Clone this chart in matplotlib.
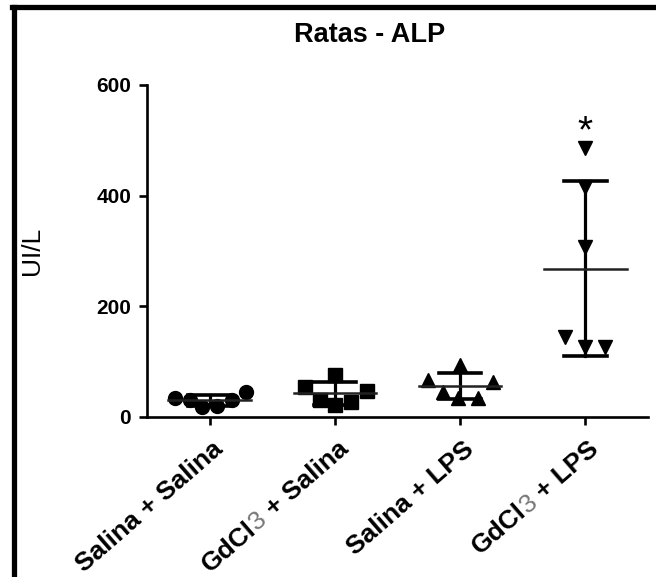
import numpy as np
import matplotlib
matplotlib.use("Agg")
import matplotlib.pyplot as plt
from matplotlib.lines import Line2D

plt.rcParams['font.family'] = ['Liberation Sans', 'DejaVu Sans']

# data (UI/L)
groups = ["Salina + Salina", "GdCl3 + Salina", "Salina + LPS", "GdCl3 + LPS"]
sal_sal = [34, 31, 18, 20, 31, 45]
gd_sal = [54, 76, 47, 31, 22, 27]
sal_lps = [67, 94, 63, 45, 34, 34]
gd_lps = [486, 416, 307, 145, 127, 127]
values = [sal_sal, gd_sal, sal_lps, gd_lps]

# horizontal spread of the points inside each column
spread = [[-0.28, -0.16, -0.06, 0.06, 0.18, 0.29],
          [-0.24, 0.0, 0.26, -0.12, 0.0, 0.13],
          [-0.26, 0.0, 0.26, -0.14, -0.02, 0.14],
          [0.0, 0.0, 0.0, -0.16, 0.0, 0.16]]
markers = ['o', 's', '^', 'v']
msize = [10, 10, 10.5, 10.5]

W, H = 656, 577
fig = plt.figure(figsize=(W / 100, H / 100), dpi=100)
ax = fig.add_axes([147 / W, 1 - 417 / H, (648 - 147) / W, (417 - 85) / H])

for i, vals in enumerate(values):
    x = i + np.array(spread[i])
    ax.plot(x, vals, linestyle='none', marker=markers[i], ms=msize[i],
            color='black', clip_on=False, zorder=3)
    m = np.mean(vals)
    sd = np.std(vals, ddof=1)
    ax.plot([i, i], [m - sd, m + sd], color='black', lw=2.3, zorder=4, clip_on=False)
    ax.plot([i - 0.17, i + 0.17], [m + sd, m + sd], color='black', lw=2.6, zorder=4)
    ax.plot([i - 0.17, i + 0.17], [m - sd, m - sd], color='black', lw=2.6, zorder=4)
    ax.plot([i - 0.33, i + 0.33], [m, m], color='#222222', lw=1.8, zorder=4)

ax.text(3, 497, '*', ha='center', va='baseline', fontsize=28)

ax.set_xlim(-0.5, 3.5)
ax.set_ylim(0, 600)
ax.set_yticks([0, 200, 400, 600])
ax.set_xticks(range(4))
ax.set_xticklabels([])
for s in ['top', 'right']:
    ax.spines[s].set_visible(False)
for s in ['left', 'bottom']:
    ax.spines[s].set_linewidth(1.9)
ax.tick_params(axis='both', width=1.9, length=5.5, direction='out')
ax.tick_params(axis='y', pad=6, labelsize=15)
for lab in ax.get_yticklabels():
    lab.set_fontweight('bold')

fig.text(370 / W, 1 - 35 / H, 'Ratas - ALP', ha='center', va='center',
         fontsize=19.5, fontweight='bold')
fig.text(32 / W, 1 - 251 / H, 'UI/L', ha='center', va='center',
         rotation=90, fontsize=19)

# rotated category labels, "3" in GdCl3 drawn lighter
ang = 41
fsz = 19
renderer = fig.canvas.get_renderer()


def text_width(s, **kw):
    t = fig.text(0, 0, s, fontsize=fsz, **kw)
    w = t.get_window_extent(renderer).width
    t.remove()
    return w


gap = text_width('a a', fontweight='bold') - text_width('aa', fontweight='bold')
d = np.array([np.cos(np.radians(ang)), np.sin(np.radians(ang))])
inv = fig.transFigure.inverted()
for i, g in enumerate(groups):
    if g.startswith('GdCl3'):
        pieces = [('GdCl', dict(fontweight='bold', color='black')),
                  ('3', dict(fontweight='normal', color='#777777')),
                  (g[6:], dict(fontweight='bold', color='black'))]
        gaps = [0, gap]
    else:
        pieces = [(g, dict(fontweight='bold', color='black'))]
        gaps = []
    widths = [text_width(p, **kw) for p, kw in pieces]
    total = sum(widths) + sum(gaps)
    tick = ax.transData.transform((i, 0))
    end = tick + np.array([15, -34])
    pos = end - total * d
    for k, (p, kw) in enumerate(pieces):
        fx, fy = inv.transform(pos)
        fig.text(fx, fy, p, fontsize=fsz, rotation=ang, rotation_mode='anchor',
                 ha='left', va='baseline', **kw)
        pos = pos + widths[k] * d
        if k < len(gaps):
            pos = pos + gaps[k] * d

# frame lines at the top and left edge of the picture
fig.add_artist(Line2D([13.5 / W, 13.5 / W], [0, 1 - 6.5 / H], color='black',
                      lw=3.8, transform=fig.transFigure))
fig.add_artist(Line2D([11.5 / W, 1], [1 - 6.5 / H, 1 - 6.5 / H], color='black',
                      lw=3.8, transform=fig.transFigure))

fig.savefig('out.png', dpi=100)
